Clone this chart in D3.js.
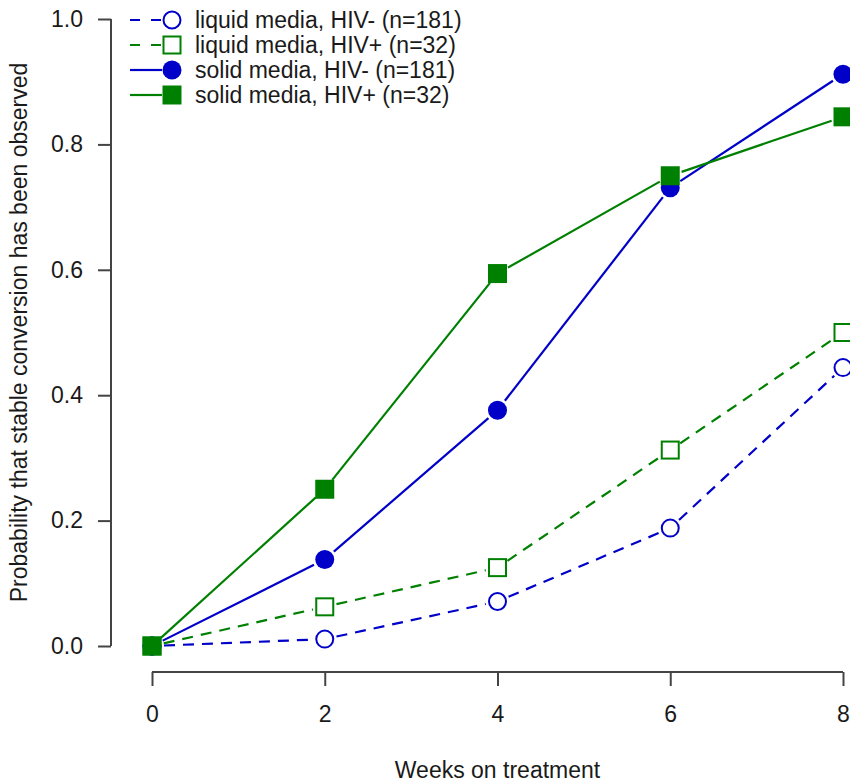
<!DOCTYPE html>
<html>
<head>
<meta charset="utf-8">
<script src="https://cdn.jsdelivr.net/npm/d3@7"></script>
<style>
  html, body { margin: 0; padding: 0; background: #fff; }
  svg { display: block; }
  text { font-family: "Liberation Sans", Arial, sans-serif; fill: #1a1a1a; }
</style>
</head>
<body>
<svg id="chart" width="850" height="784"></svg>
<script>
const weeks = [0, 2, 4, 6, 8];
const xTicks = [0, 2, 4, 6, 8];
const yTicks = [0.0, 0.2, 0.4, 0.6, 0.8, 1.0];

const liquidHIVneg = [0, 0.011, 0.071, 0.188, 0.444];
const liquidHIVpos = [0, 0.0625, 0.125, 0.3125, 0.50];
const solidHIVneg  = [0, 0.138, 0.376, 0.731, 0.912];
const solidHIVpos  = [0, 0.25, 0.594, 0.75, 0.844];

const seriesNames = [
  "liquid media, HIV- (n=181)",
  "liquid media, HIV+ (n=32)",
  "solid media, HIV- (n=181)",
  "solid media, HIV+ (n=32)"
];

const BLUE = "#0000c8", GREEN = "#008000";
const series = [
  { name: seriesNames[0], values: liquidHIVneg, color: BLUE,  dashed: true,  shape: "circle", filled: false },
  { name: seriesNames[1], values: liquidHIVpos, color: GREEN, dashed: true,  shape: "square", filled: false },
  { name: seriesNames[2], values: solidHIVneg,  color: BLUE,  dashed: false, shape: "circle", filled: true },
  { name: seriesNames[3], values: solidHIVpos,  color: GREEN, dashed: false, shape: "square", filled: true }
];

const FS = 23;
const svg = d3.select("#chart");
const x = d3.scaleLinear().domain([0, 8]).range([152, 843]);
const y = d3.scaleLinear().domain([0, 1]).range([646, 19]);

const axisColor = "#444";

const yAxis = svg.append("g").attr("transform", "translate(111,0)")
  .call(d3.axisLeft(y).tickValues(yTicks).tickFormat(d3.format(".1f")).tickSize(13).tickPadding(15));
const xAxis = svg.append("g").attr("transform", "translate(0,672)")
  .call(d3.axisBottom(x).tickValues(xTicks).tickFormat(d3.format("d")).tickSize(14).tickPadding(20));

[yAxis, xAxis].forEach(g => {
  g.select(".domain").attr("stroke", axisColor).attr("stroke-width", 2);
  g.selectAll(".tick line").attr("stroke", axisColor).attr("stroke-width", 2);
  g.selectAll(".tick text").attr("font-size", FS).attr("fill", "#1a1a1a")
    .style("font-family", "'Liberation Sans', Arial, sans-serif");
});
yAxis.select(".domain").attr("d", `M0,${y(0)}V${y(1)}`);
xAxis.select(".domain").attr("d", `M${x(0)},0H${x(8)}`);

svg.append("text").attr("x", (x(0) + x(8)) / 2).attr("y", 778)
  .attr("text-anchor", "middle").attr("font-size", FS).text("Weeks on treatment");
svg.append("text").attr("transform", `translate(27,${(y(0) + y(1)) / 2}) rotate(-90)`)
  .attr("text-anchor", "middle").attr("font-size", FS)
  .text("Probability that stable conversion has been observed");

const gap = 12;
function drawMarker(g, s, cx, cy) {
  if (s.shape === "circle") {
    g.append("circle").attr("cx", cx).attr("cy", cy)
      .attr("r", s.filled ? 9.5 : 8.5)
      .attr("fill", s.filled ? s.color : "#fff")
      .attr("stroke", s.color).attr("stroke-width", s.filled ? 0 : 2);
  } else {
    const size = s.filled ? 19 : 17;
    g.append("rect").attr("x", cx - size / 2).attr("y", cy - size / 2)
      .attr("width", size).attr("height", size)
      .attr("fill", s.filled ? s.color : "#fff")
      .attr("stroke", s.color).attr("stroke-width", s.filled ? 0 : 2);
  }
}

const plot = svg.append("g");
series.forEach(s => {
  const g = plot.append("g");
  const pts = weeks.map((w, i) => [x(w), y(s.values[i])]);
  for (let i = 0; i < pts.length - 1; i++) {
    const [x1, y1] = pts[i], [x2, y2] = pts[i + 1];
    const dx = x2 - x1, dy = y2 - y1, len = Math.hypot(dx, dy);
    if (len <= 2 * gap) continue;
    const ux = dx / len, uy = dy / len;
    g.append("line")
      .attr("x1", x1 + ux * gap).attr("y1", y1 + uy * gap)
      .attr("x2", x2 - ux * gap).attr("y2", y2 - uy * gap)
      .attr("stroke", s.color).attr("stroke-width", 2.2)
      .attr("stroke-dasharray", s.dashed ? "11,8" : null);
  }
  pts.forEach(([cx, cy]) => drawMarker(g, s, cx, cy));
});

const legendRows = [20, 45, 70, 95];
const legend = svg.append("g");
series.forEach((s, i) => {
  const ly = legendRows[i];
  const g = legend.append("g");
  g.append("line").attr("x1", 130).attr("x2", 172 - gap + 2).attr("y1", ly).attr("y2", ly)
    .attr("stroke", s.color).attr("stroke-width", 2.2)
    .attr("stroke-dasharray", s.dashed ? "10,11" : null);
  drawMarker(g, s, 172, ly);
  g.append("text").attr("x", 195).attr("y", ly).attr("dy", "0.35em")
    .attr("font-size", FS).text(s.name);
});
</script>
</body>
</html>
